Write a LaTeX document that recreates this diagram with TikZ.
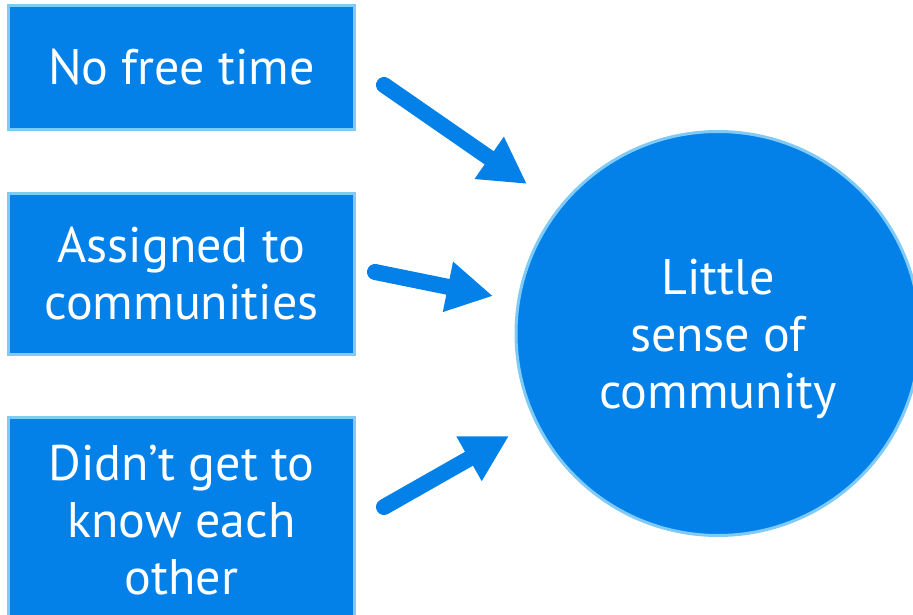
\documentclass[tikz,border=0pt]{standalone}
\usepackage{fontspec}
\setmainfont{PT Sans}
\usetikzlibrary{arrows.meta}
\definecolor{boxblue}{RGB}{3,129,233}
\definecolor{edgeblue}{RGB}{128,202,246}
\tikzset{
  box/.style={draw=edgeblue, line width=3pt, fill=boxblue, text=white,
    font=\fontsize{50}{57}\selectfont, align=center, inner sep=0pt},
  bigcircle/.style={circle, draw=edgeblue, line width=3pt, fill=boxblue, text=white,
    font=\fontsize{50}{57}\selectfont, align=center, inner sep=0pt},
  fatarrow/.style={draw=boxblue, line width=16pt, line cap=round,
    -{Triangle[width=48pt,length=46pt]}}
}
\begin{document}
\begin{tikzpicture}[x=1pt,y=-1pt]
\useasboundingbox (0,0) rectangle (913,615);
\clip (0,0) rectangle (913,615);
\node[box, minimum width=346pt, minimum height=124pt] (b1) at (181.5,67.5) {No free time};
\node[box, minimum width=346pt, minimum height=161pt] (b2) at (181.5,273.5) {Assigned to\\communities};
\node[box, minimum width=346pt, minimum height=206pt] (b3) at (181.5,520.5) {Didn’t get to\\know each\\other};
\node[bigcircle, minimum size=404pt] (c) at (718,333.5) {\rule{0pt}{46pt}Little\\sense of\\community};
\coordinate (s1) at (384,85);
\coordinate (e1) at (527,184);
\coordinate (s2) at (375,272);
\coordinate (e2) at (493,296);
\coordinate (s3) at (384,507);
\coordinate (e3) at (509,436);
\draw[fatarrow] (s1) -- (e1);
\draw[fatarrow] (s2) -- (e2);
\draw[fatarrow] (s3) -- (e3);
\end{tikzpicture}
\end{document}
